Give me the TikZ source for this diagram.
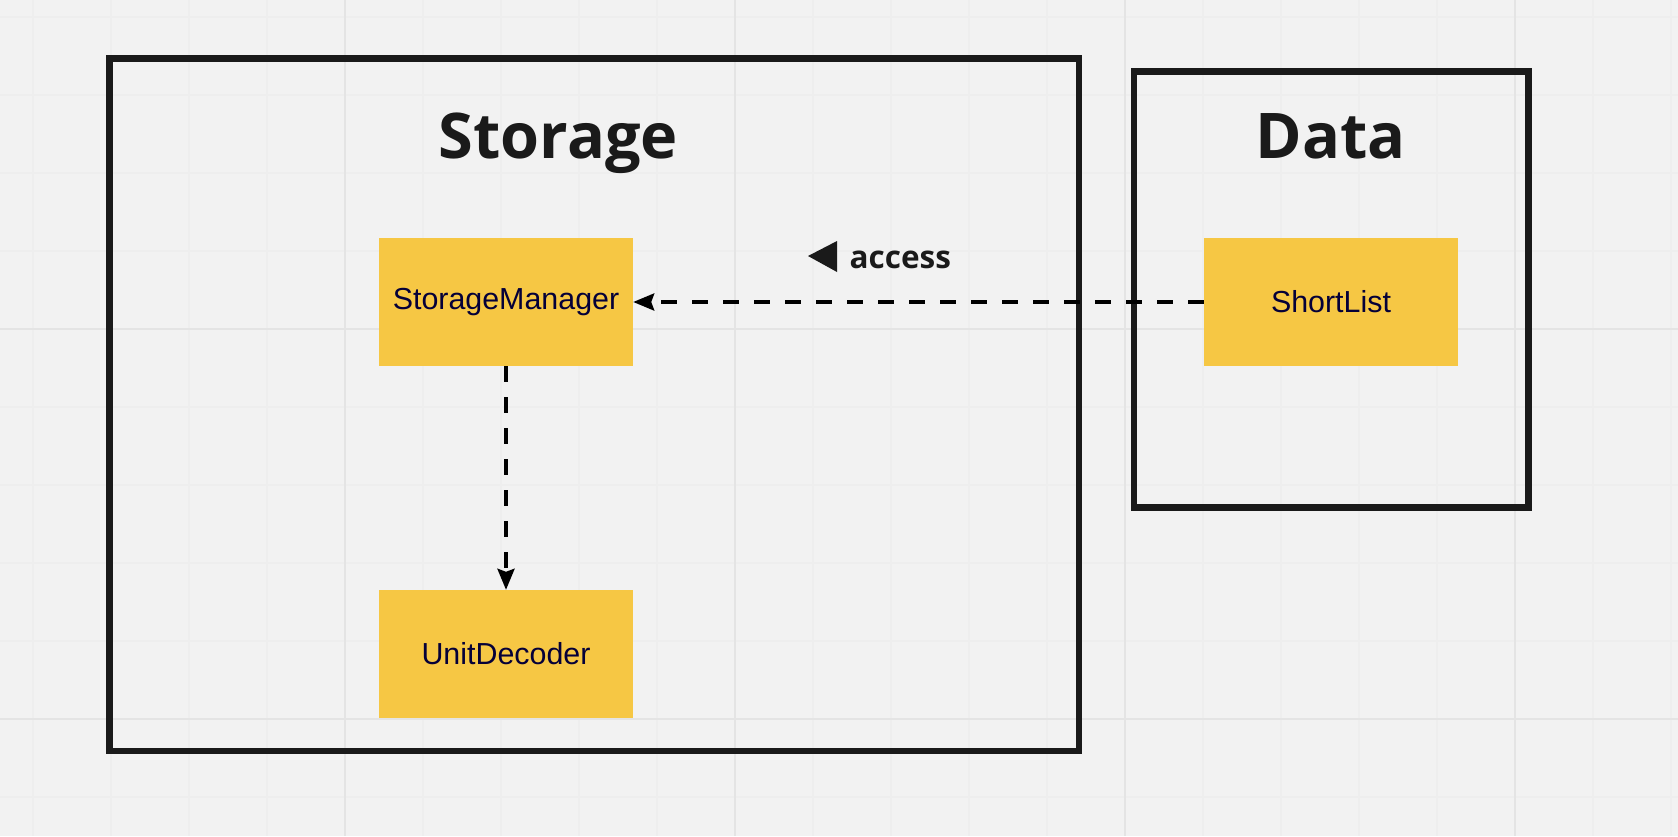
\documentclass[tikz,border=0pt]{standalone}
\usepackage{fontspec}
\setmainfont{Liberation Sans}
\newfontfamily\titlefont{Open Sans}
\usetikzlibrary{arrows.meta,calc}
\definecolor{bg}{HTML}{F2F2F2}
\definecolor{gridminor}{HTML}{EEEEEE}
\definecolor{gridmajor}{HTML}{E4E4E4}
\definecolor{frame}{HTML}{1A1A1A}
\definecolor{sticky}{HTML}{F6C744}
\definecolor{ink}{HTML}{050038}
\begin{document}
\begin{tikzpicture}[x=1pt,y=-1pt,
  classbox/.style={fill=sticky, minimum width=254pt, minimum height=128pt, inner sep=0pt, text=ink, font=\fontsize{30.4}{36}\selectfont},
  group/.style={draw=frame, line width=6.5pt, inner sep=0pt, outer sep=0pt},
  title/.style={font=\titlefont\bfseries\fontsize{63}{70}\selectfont, text=frame, anchor=base, inner sep=0pt},
  lbl/.style={font=\titlefont\bfseries\fontsize{31.5}{38}\selectfont, text=frame, anchor=base west, inner sep=0pt},
  dep/.style={draw=black, line width=3.5pt, dash pattern=on 16pt off 15pt, -{Stealth[length=21pt,width=17pt,inset=3pt]}},
  minorline/.style={draw=gridminor, line width=1.2pt},
  majorline/.style={draw=gridmajor, line width=2pt}
]
\fill[bg] (0,0) rectangle (1678,836);
\useasboundingbox (0,0) rectangle (1678,836);
% grid
\foreach \i in {0,...,21} \draw[minorline] ({33+78*\i},0) -- ({33+78*\i},836);
\foreach \j in {0,...,10} \draw[minorline] (0,{17+78*\j}) -- (1678,{17+78*\j});
\foreach \i in {4,9,14,19} \draw[majorline] ({33+78*\i},0) -- ({33+78*\i},836);
\foreach \j in {4,9} \draw[majorline] (0,{17+78*\j}) -- (1678,{17+78*\j});
% groups
\node[group, minimum width=969.5pt, minimum height=692.5pt] (storage) at (594.25,404.75) {};
\node[group, minimum width=394.5pt, minimum height=436pt] (data) at (1331.25,289.5) {};
\node[title] (storagetitle) at (558.5,158) {Storage};
\node[title] (datatitle) at (1330.5,158) {Data};
% classes
\node[classbox] (sm) at (506,302) {StorageManager};
\node[classbox] (ud) at (506,654) {UnitDecoder};
\node[classbox] (sl) at (1331,302) {ShortList};
% connectors
\draw[dep] (sl.west) -- (sm.east);
\draw[dep] (sm.south) -- (ud.north);
% label
\node[lbl] (acc) at (849.5,268) {access};
\fill[frame] ($(acc.base west)+(-41.5,-12)$) -- ($(acc.base west)+(-12.5,-27)$) -- ($(acc.base west)+(-12.5,4)$) -- cycle;
\end{tikzpicture}
\end{document}
